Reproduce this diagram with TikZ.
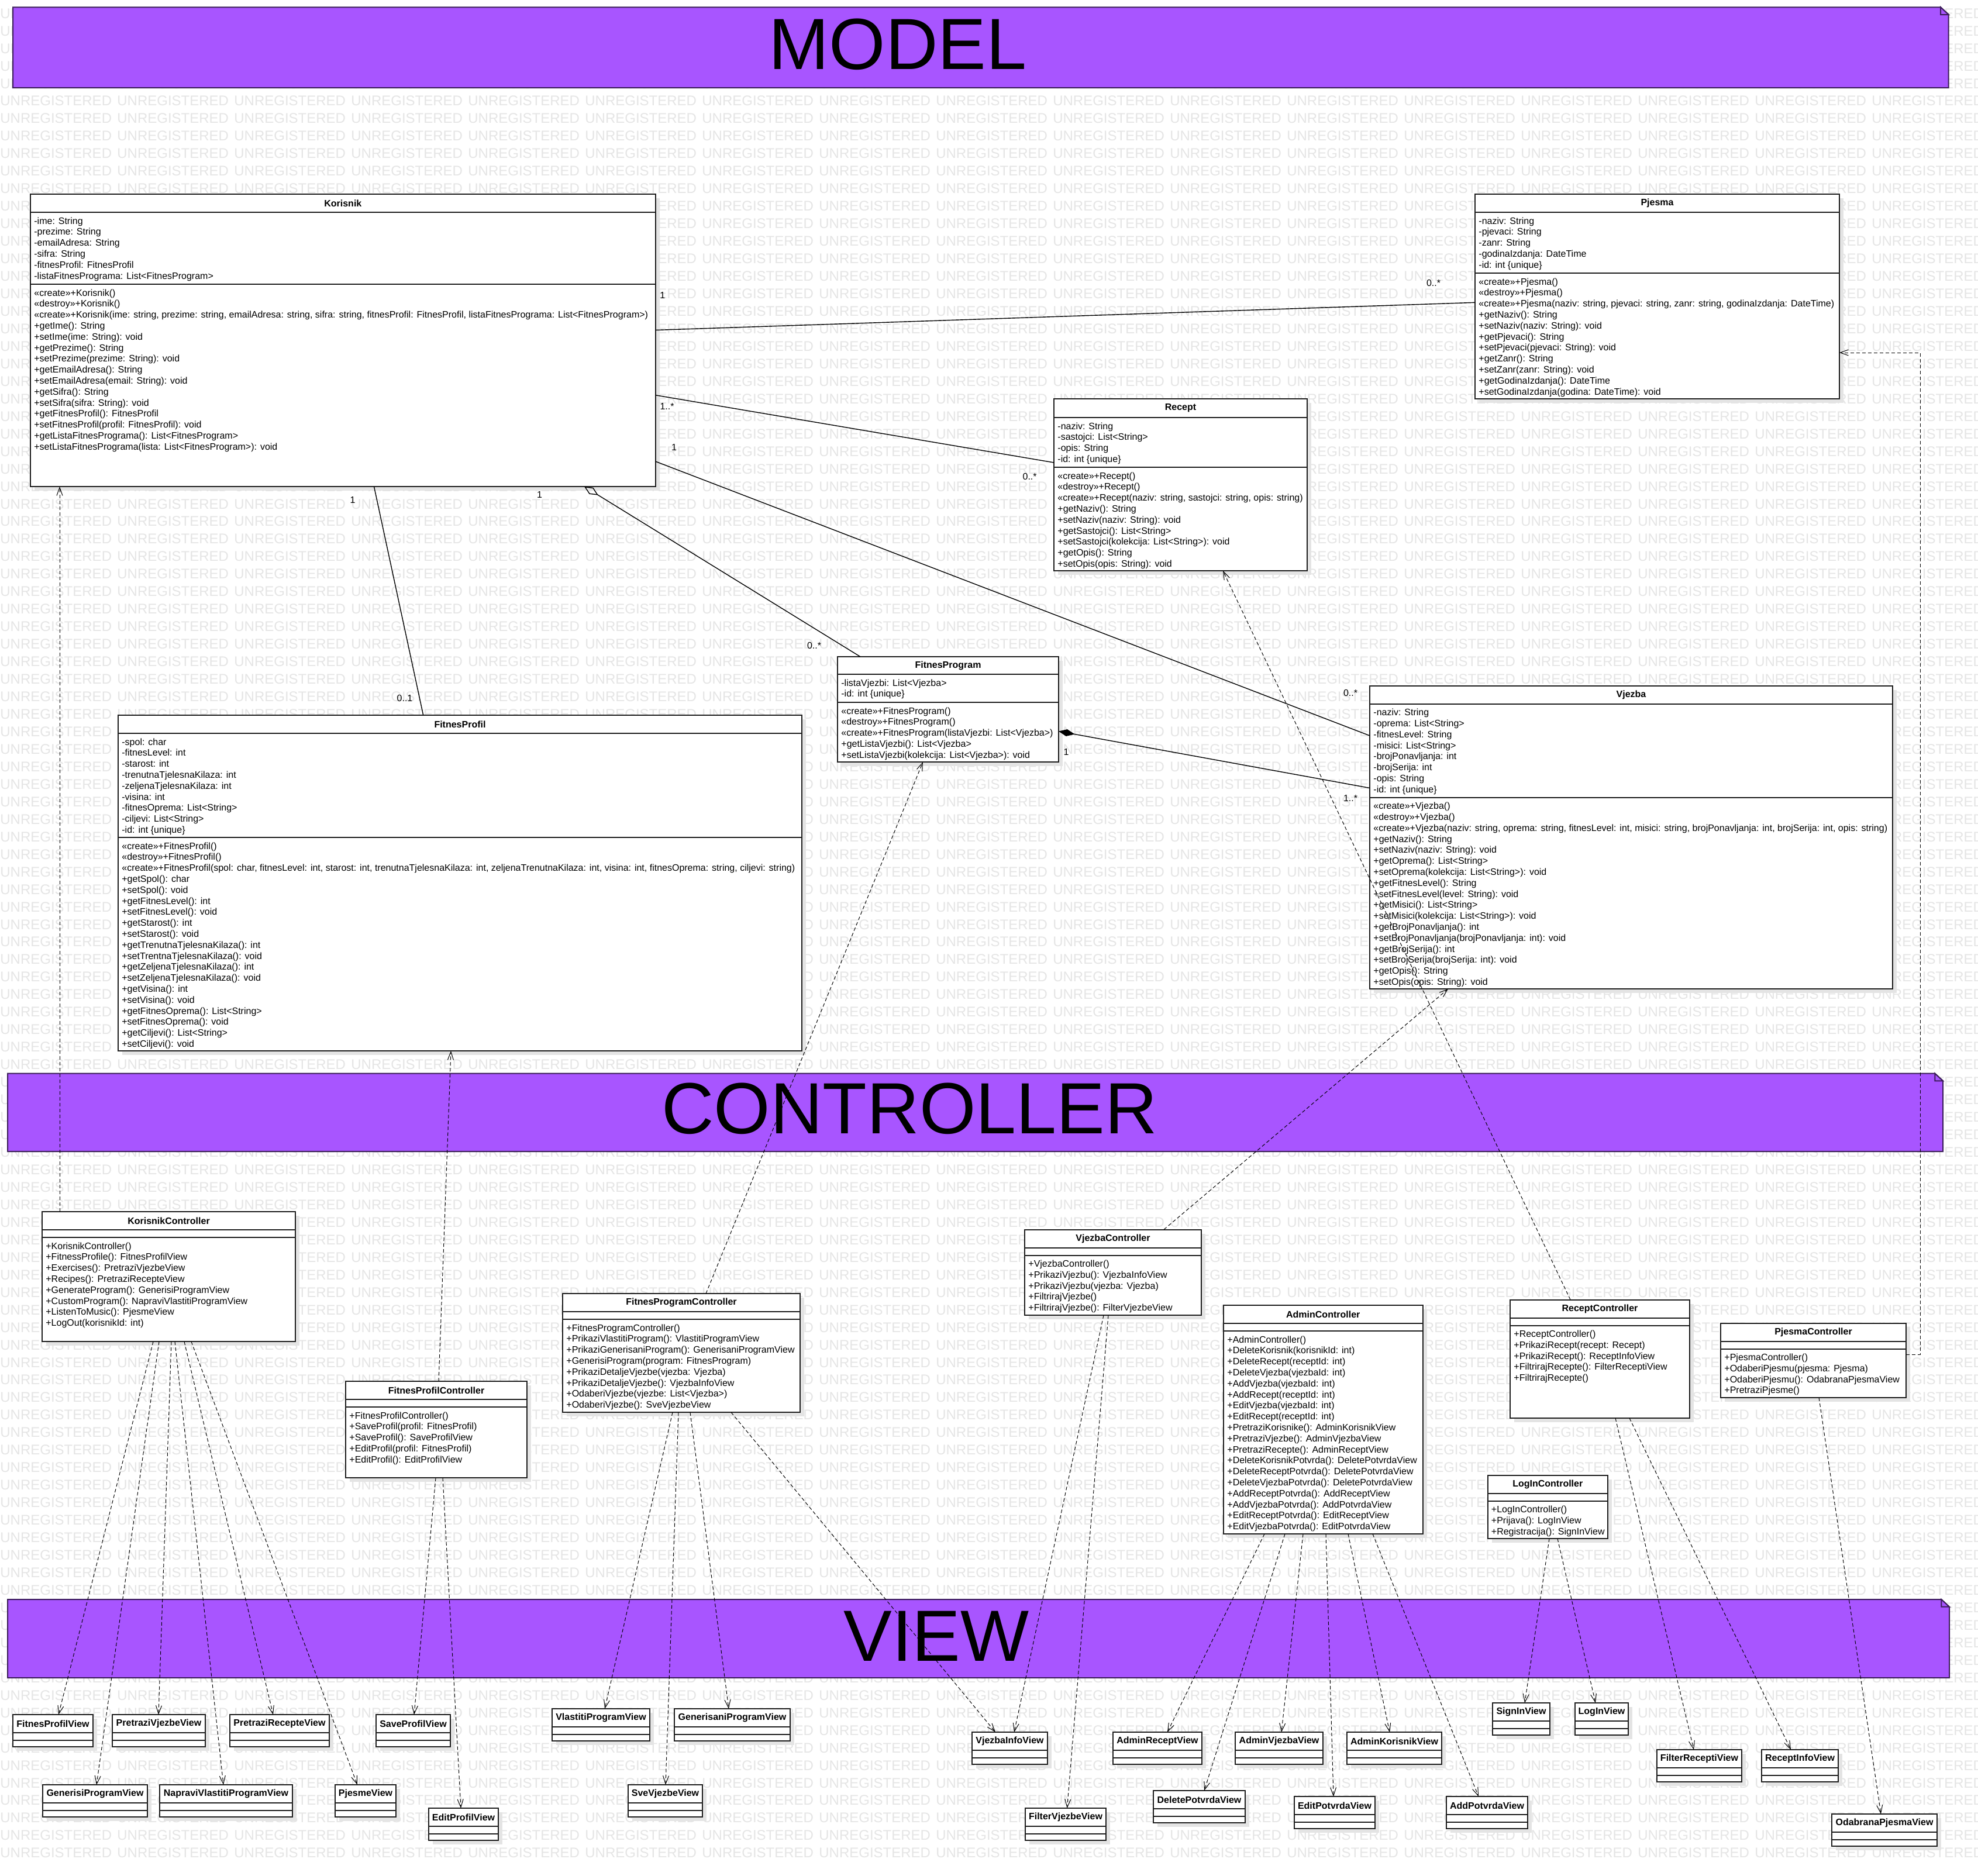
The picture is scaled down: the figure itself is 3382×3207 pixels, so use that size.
\documentclass[tikz,border=0pt]{standalone}
\usepackage{fontspec}
\setmainfont{Liberation Sans}
\usetikzlibrary{arrows.meta,fit}
\definecolor{wmc}{RGB}{229,229,229}
\definecolor{bannerfill}{RGB}{168,85,255}
\definecolor{bannerdraw}{RGB}{60,30,90}
\definecolor{shadowc}{RGB}{228,228,228}
\definecolor{boxline}{RGB}{30,30,30}
\newcommand\WMword{\makebox[100pt][l]{UNREGISTERED}}
\newcommand\WMrow{\WMword\WMword\WMword\WMword\WMword\WMword\WMword\WMword\WMword\WMword\WMword\WMword\WMword\WMword\WMword\WMword\WMword}
\tikzset{
 clsbox/.style={draw=boxline, line width=1pt, fill=white, inner sep=0pt, outer sep=0pt},
 clsline/.style={draw=boxline, line width=1pt},
 clstitle/.style={font=\fontsize{8pt}{9.4pt}\selectfont\bfseries, inner sep=0pt},
 clstext/.style={anchor=north west, inner sep=0pt, align=left, font=\fontsize{8pt}{9.4pt}\selectfont},
 mult/.style={font=\fontsize{8pt}{9.4pt}\selectfont, inner sep=0pt},
 assoc/.style={draw=black, line width=0.7pt},
 deparrow/.style={draw=black, line width=0.5pt, dash pattern=on 3pt off 2pt, -{Straight Barb[length=7pt,width=5pt]}},
 wmark/.style={text=wmc, font=\fontsize{12pt}{12pt}\selectfont, inner sep=0pt, anchor=base west},
 bannertext/.style={font=\fontsize{62pt}{62pt}\selectfont, inner sep=0pt},
}
% #1 name, #2 x1, #3 y1, #4 x2, #5 y2, #6 header line, #7 separator, #8 title
\newcommand\UCls[8]{%
  \fill[shadowc] (#2+7,#3+7) rectangle (#4+7,#5+7);
  \node[clsbox, fit={(#2,#3)(#4,#5)}] (#1) {};
  \draw[clsline] (#2,#6) -- (#4,#6);
  \draw[clsline] (#2,#7) -- (#4,#7);
  \node[clstitle] (#1-title) at ({(#2+#4)/2},{(#3+#6)/2}) {#8};
}
\newcommand\UView[5]{\UCls{#1}{#2}{#3}{#4}{#3+55}{#3+31}{#3+44}{#5}}
% #1 name, #2 x1, #3 y1, #4 x2, #5 y2, #6 text, #7 tx, #8 ty
\newcommand\Banner[8]{%
  \filldraw[fill=bannerfill, draw=bannerdraw, line width=1pt] (#2,#3) -- (#4-13.7,#3) -- (#4,#3+12.7) -- (#4,#5) -- (#2,#5) -- cycle;
  \filldraw[fill=bannerfill, draw=bannerdraw, line width=1pt] (#4-13.7,#3) -- (#4-13.7,#3+12.7) -- (#4,#3+12.7) -- cycle;
  \node[bannertext] (#1) at (#7,#8) {#6};
}
\begin{document}
\begin{tikzpicture}[x=0.5pt,y=-0.5pt]
\useasboundingbox (0,0) rectangle (3382,3207);
\fill[white] (0,0) rectangle (3382,3207);
\foreach \r in {0,...,105} { \node[wmark] (wm\r) at (0,{31.2+29.958*\r}) {\WMrow}; }

\Banner{model}{22}{12.3}{3331.7}{150}{MODEL}{1535}{75.5}
\Banner{controller}{13}{1835.6}{3322}{1969}{CONTROLLER}{1555}{1896}
\Banner{view}{13}{2735}{3333}{2869}{VIEW}{1601}{2797.6}

% ---------------- MODEL classes
\UCls{korisnik}{52}{332}{1120.7}{832}{363}{486}{Korisnik}
\node[clstext] (korisnik-attr) at (58,371) {-ime: String\\-prezime: String\\-emailAdresa: String\\-sifra: String\\-fitnesProfil: FitnesProfil\\-listaFitnesPrograma: List<FitnesProgram>};
\node[clstext] (korisnik-meth) at (58,494) {«create»+Korisnik()\\«destroy»+Korisnik()\\«create»+Korisnik(ime: string, prezime: string, emailAdresa: string, sifra: string, fitnesProfil: FitnesProfil, listaFitnesPrograma: List<FitnesProgram>)\\+getIme(): String\\+setIme(ime: String): void\\+getPrezime(): String\\+setPrezime(prezime: String): void\\+getEmailAdresa(): String\\+setEmailAdresa(email: String): void\\+getSifra(): String\\+setSifra(sifra: String): void\\+getFitnesProfil(): FitnesProfil\\+setFitnesProfil(profil: FitnesProfil): void\\+getListaFitnesPrograma(): List<FitnesProgram>\\+setListaFitnesPrograma(lista: List<FitnesProgram>): void};

\UCls{pjesma}{2522}{332}{3145}{682}{363}{467}{Pjesma}
\node[clstext] (pjesma-attr) at (2528,371) {-naziv: String\\-pjevaci: String\\-zanr: String\\-godinaIzdanja: DateTime\\-id: int \{unique\}};
\node[clstext] (pjesma-meth) at (2528,475) {«create»+Pjesma()\\«destroy»+Pjesma()\\«create»+Pjesma(naziv: string, pjevaci: string, zanr: string, godinaIzdanja: DateTime)\\+getNaziv(): String\\+setNaziv(naziv: String): void\\+getPjevaci(): String\\+setPjevaci(pjevaci: String): void\\+getZanr(): String\\+setZanr(zanr: String): void\\+getGodinaIzdanja(): DateTime\\+setGodinaIzdanja(godina: DateTime): void};

\UCls{recept}{1802}{682}{2235}{976}{714}{799}{Recept}
\node[clstext] (recept-attr) at (1808,722) {-naziv: String\\-sastojci: List<String>\\-opis: String\\-id: int \{unique\}};
\node[clstext] (recept-meth) at (1808,807) {«create»+Recept()\\«destroy»+Recept()\\«create»+Recept(naziv: string, sastojci: string, opis: string)\\+getNaziv(): String\\+setNaziv(naziv: String): void\\+getSastojci(): List<String>\\+setSastojci(kolekcija: List<String>): void\\+getOpis(): String\\+setOpis(opis: String): void};

\UCls{fprogram}{1432}{1123}{1810}{1303}{1153}{1201}{FitnesProgram}
\node[clstext] (fprogram-attr) at (1438,1161) {-listaVjezbi: List<Vjezba>\\-id: int \{unique\}};
\node[clstext] (fprogram-meth) at (1438,1209) {«create»+FitnesProgram()\\«destroy»+FitnesProgram()\\«create»+FitnesProgram(listaVjezbi: List<Vjezba>)\\+getListaVjezbi(): List<Vjezba>\\+setListaVjezbi(kolekcija: List<Vjezba>): void};

\UCls{fprofil}{202}{1223}{1371}{1797}{1254}{1432}{FitnesProfil}
\node[clstext] (fprofil-attr) at (208,1262) {-spol: char\\-fitnesLevel: int\\-starost: int\\-trenutnaTjelesnaKilaza: int\\-zeljenaTjelesnaKilaza: int\\-visina: int\\-fitnesOprema: List<String>\\-ciljevi: List<String>\\-id: int \{unique\}};
\node[clstext] (fprofil-meth) at (208,1440) {«create»+FitnesProfil()\\«destroy»+FitnesProfil()\\«create»+FitnesProfil(spol: char, fitnesLevel: int, starost: int, trenutnaTjelesnaKilaza: int, zeljenaTrenutnaKilaza: int, visina: int, fitnesOprema: string, ciljevi: string)\\+getSpol(): char\\+setSpol(): void\\+getFitnesLevel(): int\\+setFitnesLevel(): void\\+getStarost(): int\\+setStarost(): void\\+getTrenutnaTjelesnaKilaza(): int\\+setTrentnaTjelesnaKilaza(): void\\+getZeljenaTjelesnaKilaza(): int\\+setZeljenaTjelesnaKilaza(): void\\+getVisina(): int\\+setVisina(): void\\+getFitnesOprema(): List<String>\\+setFitnesOprema(): void\\+getCiljevi(): List<String>\\+setCiljevi(): void};

\UCls{vjezba}{2342}{1172.5}{3236}{1691}{1203.6}{1363.6}{Vjezba}
\node[clstext] (vjezba-attr) at (2348,1211.6) {-naziv: String\\-oprema: List<String>\\-fitnesLevel: String\\-misici: List<String>\\-brojPonavljanja: int\\-brojSerija: int\\-opis: String\\-id: int \{unique\}};
\node[clstext] (vjezba-meth) at (2348,1371.6) {«create»+Vjezba()\\«destroy»+Vjezba()\\«create»+Vjezba(naziv: string, oprema: string, fitnesLevel: int, misici: string, brojPonavljanja: int, brojSerija: int, opis: string)\\+getNaziv(): String\\+setNaziv(naziv: String): void\\+getOprema(): List<String>\\+setOprema(kolekcija: List<String>): void\\+getFitnesLevel(): String\\+setFitnesLevel(level: String): void\\+getMisici(): List<String>\\+setMisici(kolekcija: List<String>): void\\+getBrojPonavljanja(): int\\+setBrojPonavljanja(brojPonavljanja: int): void\\+getBrojSerija(): int\\+setBrojSerija(brojSerija: int): void\\+getOpis(): String\\+setOpis(opis: String): void};

% ---------------- CONTROLLER classes
\UCls{kc}{72}{2072}{505}{2294}{2103}{2116}{KorisnikController}
\node[clstext] (kc-meth) at (78,2124) {+KorisnikController()\\+FitnessProfile(): FitnesProfilView\\+Exercises(): PretraziVjezbeView\\+Recipes(): PretraziRecepteView\\+GenerateProgram(): GenerisiProgramView\\+CustomProgram(): NapraviVlastitiProgramView\\+ListenToMusic(): PjesmeView\\+LogOut(korisnikId: int)};

\UCls{fpc}{591}{2362}{901}{2527}{2393}{2406}{FitnesProfilController}
\node[clstext] (fpc-meth) at (597,2414) {+FitnesProfilController()\\+SaveProfil(profil: FitnesProfil)\\+SaveProfil(): SaveProfilView\\+EditProfil(profil: FitnesProfil)\\+EditProfil(): EditProfilView};

\UCls{fprc}{962}{2212}{1368}{2415}{2243}{2256}{FitnesProgramController}
\node[clstext] (fprc-meth) at (968,2264) {+FitnesProgramController()\\+PrikaziVlastitiProgram(): VlastitiProgramView\\+PrikaziGenerisaniProgram(): GenerisaniProgramView\\+GenerisiProgram(program: FitnesProgram)\\+PrikaziDetaljeVjezbe(vjezba: Vjezba)\\+PrikaziDetaljeVjezbe(): VjezbaInfoView\\+OdaberiVjezbe(vjezbe: List<Vjezba>)\\+OdaberiVjezbe(): SveVjezbeView};

\UCls{vc}{1752}{2102.5}{2054}{2249}{2134}{2146.5}{VjezbaController}
\node[clstext] (vc-meth) at (1758,2154.5) {+VjezbaController()\\+PrikaziVjezbu(): VjezbaInfoView\\+PrikaziVjezbu(vjezba: Vjezba)\\+FiltrirajVjezbe()\\+FiltrirajVjezbe(): FilterVjezbeView};

\UCls{ac}{2092}{2232}{2432.5}{2623}{2263}{2276}{AdminController}
\node[clstext] (ac-meth) at (2098,2284) {+AdminController()\\+DeleteKorisnik(korisnikId: int)\\+DeleteRecept(receptId: int)\\+DeleteVjezba(vjezbaId: int)\\+AddVjezba(vjezbaId: int)\\+AddRecept(receptId: int)\\+EditVjezba(vjezbaId: int)\\+EditRecept(receptId: int)\\+PretraziKorisnike(): AdminKorisnikView\\+PretraziVjezbe(): AdminVjezbaView\\+PretraziRecepte(): AdminReceptView\\+DeleteKorisnikPotvrda(): DeletePotvrdaView\\+DeleteReceptPotvrda(): DeletePotvrdaView\\+DeleteVjezbaPotvrda(): DeletePotvrdaView\\+AddReceptPotvrda(): AddReceptView\\+AddVjezbaPotvrda(): AddPotvrdaView\\+EditReceptPotvrda(): EditReceptView\\+EditVjezbaPotvrda(): EditPotvrdaView};

\UCls{rc}{2582}{2222.5}{2889}{2425}{2254}{2266.5}{ReceptController}
\node[clstext] (rc-meth) at (2588,2274.5) {+ReceptController()\\+PrikaziRecept(recept: Recept)\\+PrikaziRecept(): ReceptInfoView\\+FiltrirajRecepte(): FilterReceptiView\\+FiltrirajRecepte()};

\UCls{pc}{2942}{2262.5}{3259}{2390}{2294}{2306.5}{PjesmaController}
\node[clstext] (pc-meth) at (2948,2314.5) {+PjesmaController()\\+OdaberiPjesmu(pjesma: Pjesma)\\+OdaberiPjesmu(): OdabranaPjesmaView\\+PretraziPjesme()};

\UCls{lc}{2543.5}{2522.5}{2749}{2631}{2554}{2566.5}{LogInController}
\node[clstext] (lc-meth) at (2549.5,2574.5) {+LogInController()\\+Prijava(): LogInView\\+Registracija(): SignInView};

% ---------------- VIEW classes
\UView{vFPV}{22}{2932}{159}{FitnesProfilView}
\UView{vPVV}{192}{2932}{351}{PretraziVjezbeView}
\UView{vPRV}{393}{2932}{563}{PretraziRecepteView}
\UView{vSPV}{643}{2932}{770}{SaveProfilView}
\UView{vVPV}{944}{2922}{1111}{VlastitiProgramView}
\UView{vGnPV}{1153}{2922}{1351}{GenerisaniProgramView}
\UView{vGPV}{73}{3052}{252}{GenerisiProgramView}
\UView{vNVPV}{273}{3052}{500}{NapraviVlastitiProgramView}
\UView{vPjV}{573}{3052}{677}{PjesmeView}
\UView{vEPV}{733}{3092}{852}{EditProfilView}
\UView{vSVV}{1074}{3052}{1201}{SveVjezbeView}
\UView{vVIV}{1662}{2962}{1791}{VjezbaInfoView}
\UView{vARV}{1903}{2962}{2055}{AdminReceptView}
\UView{vAVV}{2112}{2962}{2262}{AdminVjezbaView}
\UView{vAKV}{2303}{2962}{2465}{AdminKorisnikView}
\UView{vSIV}{2552}{2912}{2650}{SignInView}
\UView{vLIV}{2693}{2912}{2784}{LogInView}
\UView{vFRV}{2833}{2992}{2978}{FilterReceptiView}
\UView{vRIV}{3012}{2992}{3143}{ReceptInfoView}
\UView{vFVV}{1753}{3092}{1891}{FilterVjezbeView}
\UView{vDPV}{1972}{3062}{2129}{DeletePotvrdaView}
\UView{vEdPV}{2213}{3072}{2351}{EditPotvrdaView}
\UView{vAPV}{2473}{3072}{2612}{AddPotvrdaView}
\UView{vOPV}{3132}{3102}{3312}{OdabranaPjesmaView}

% ---------------- associations
\draw[assoc] (korisnik.east |- 0,564.5) -- (pjesma.west |- 0,517.3);
\draw[assoc] (korisnik.east |- 0,675.7) -- (recept.west |- 0,791);
\draw[assoc] (korisnik.east |- 0,789) -- (vjezba.west |- 0,1258);
\draw[assoc] (korisnik.south -| 639.5,0) -- (fprofil.north -| 723.7,0);
\draw[assoc, {Diamond[open,length=14pt,width=6.5pt]}-] (korisnik.south -| 999,0) -- (fprogram.north -| 1471,0);
\draw[assoc, {Diamond[length=14pt,width=6pt]}-] (fprogram.east |- 0,1250.5) -- (vjezba.west |- 0,1347.5);

\node[mult] (m1) at (1132.7,505) {1};
\node[mult] (m2) at (1140.5,695) {1..*};
\node[mult] (m3) at (1152.6,765) {1};
\node[mult] (m4) at (603,855) {1};
\node[mult] (m5) at (922.5,845.6) {1};
\node[mult] (m6) at (692,1194) {0..1};
\node[mult] (m7) at (2451,484) {0..*};
\node[mult] (m8) at (1760.6,815) {0..*};
\node[mult] (m9) at (1392,1104) {0..*};
\node[mult] (m10) at (1823,1286) {1};
\node[mult] (m11) at (2309,1185) {0..*};
\node[mult] (m12) at (2309,1365) {1..*};

% ---------------- dependencies controller -> model
\draw[deparrow] (kc.north -| 102,0) -- (korisnik.south -| 102,0);
\draw[deparrow] (fpc.north -| 750,0) -- (fprofil.south -| 771,0);
\draw[deparrow] (fprc.north -| 1207,0) -- (fprogram.south -| 1578,0);
\draw[deparrow] (vc.north -| 1990,0) -- (vjezba.south -| 2476,0);
\draw[deparrow] (rc.north -| 2685,0) -- (recept.south -| 2091,0);
\coordinate (pcr1) at (3283,2316);
\coordinate (pcr2) at (3283,603);
\draw[deparrow] (pc.east |- 0,2316) -- (pcr1) -- (pcr2) -- (pjesma.east |- 0,603);

% ---------------- dependencies controller -> view
\draw[deparrow] (kc.south -| 262,0) -- (vFPV.north -| 100,0);
\draw[deparrow] (kc.south -| 272,0) -- (vGPV.north -| 165,0);
\draw[deparrow] (kc.south -| 293,0) -- (vPVV.north -| 271,0);
\draw[deparrow] (kc.south -| 299,0) -- (vNVPV.north -| 382,0);
\draw[deparrow] (kc.south -| 315,0) -- (vPRV.north -| 467,0);
\draw[deparrow] (kc.south -| 327,0) -- (vPjV.north -| 611,0);
\draw[deparrow] (fpc.south -| 745,0) -- (vSPV.north -| 708,0);
\draw[deparrow] (fpc.south -| 757,0) -- (vEPV.north -| 788,0);
\draw[deparrow] (fprc.south -| 1150,0) -- (vVPV.north -| 1034,0);
\draw[deparrow] (fprc.south -| 1160,0) -- (vSVV.north -| 1138,0);
\draw[deparrow] (fprc.south -| 1180,0) -- (vGnPV.north -| 1246,0);
\draw[deparrow] (fprc.south -| 1250,0) -- (vVIV.north -| 1702,0);
\draw[deparrow] (vc.south -| 1887,0) -- (vVIV.north -| 1734,0);
\draw[deparrow] (vc.south -| 1895,0) -- (vFVV.north -| 1824.5,0);
\draw[deparrow] (ac.south -| 2162,0) -- (vARV.north -| 1996,0);
\draw[deparrow] (ac.south -| 2197,0) -- (vDPV.north -| 2059,0);
\draw[deparrow] (ac.south -| 2228,0) -- (vAVV.north -| 2191,0);
\draw[deparrow] (ac.south -| 2267,0) -- (vEdPV.north -| 2280,0);
\draw[deparrow] (ac.south -| 2305,0) -- (vAKV.north -| 2376,0);
\draw[deparrow] (ac.south -| 2347,0) -- (vAPV.north -| 2528,0);
\draw[deparrow] (rc.south -| 2762,0) -- (vFRV.north -| 2896,0);
\draw[deparrow] (rc.south -| 2786,0) -- (vRIV.north -| 3062,0);
\draw[deparrow] (lc.south -| 2649,0) -- (vSIV.north -| 2607,0);
\draw[deparrow] (lc.south -| 2663,0) -- (vLIV.north -| 2728,0);
\draw[deparrow] (pc.south -| 3110,0) -- (vOPV.north -| 3216,0);
\end{tikzpicture}
\end{document}
